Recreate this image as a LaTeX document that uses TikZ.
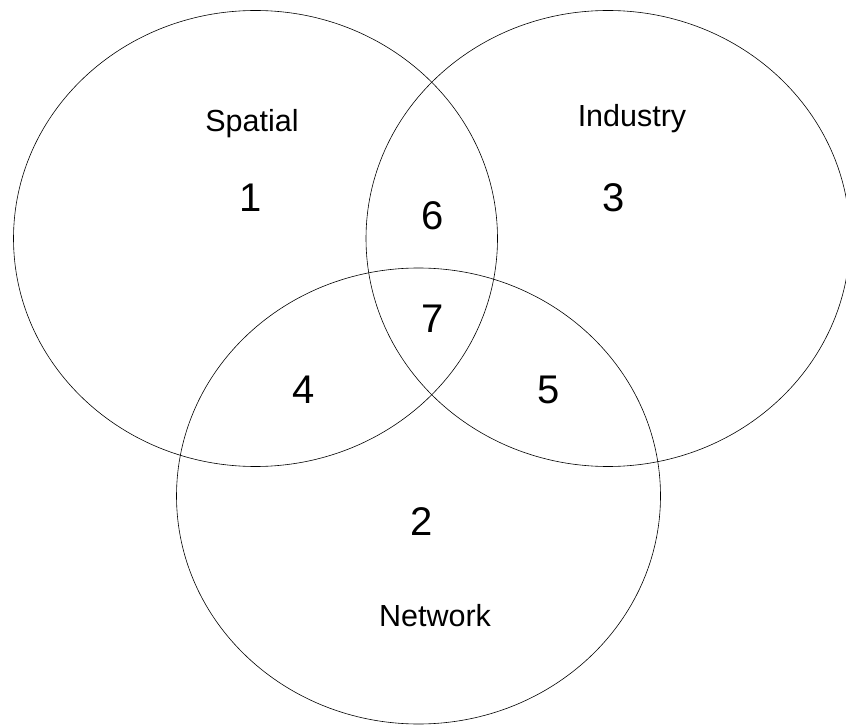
\documentclass[tikz,border=0pt]{standalone}
\usepackage{fontspec}
\setmainfont{Liberation Sans}
\usepackage{tikz}
\usetikzlibrary{shapes.geometric}

\begin{document}
\begin{tikzpicture}[x=1pt, y=1pt,
setnode/.style={ellipse, draw=black, line width=0.6pt, inner sep=0pt, outer sep=0pt, minimum width=484pt, minimum height=456pt},
setlabel/.style={anchor=base, inner sep=0pt, font=\fontsize{30.5}{36}\selectfont},
regionnum/.style={anchor=base, inner sep=0pt, font=\fontsize{40}{48}\selectfont},
]
\useasboundingbox (0pt,0pt) rectangle (846pt,724pt);
%Sets
\node[setnode] (spatial)  at (255.5pt, 485.5pt) {};
\node[setnode] (industry) at (608pt, 485.5pt) {};
\node[setnode] (network)  at (418.5pt, 228pt) {};
%Labels
\node[setlabel] (spatial_l)  at (252pt, 592.3pt) {Spatial};
\node[setlabel] (industry_l) at (632pt, 597.3pt) {Industry};
\node[setlabel] (network_l)  at (435pt, 98pt) {Network};
%Regions
\node[regionnum] (r1) at (251pt, 512pt) {1};
\node[regionnum] (r2) at (421.5pt, 189pt) {2};
\node[regionnum] (r3) at (614pt, 512pt) {3};
\node[regionnum] (r4) at (303.5pt, 321pt) {4};
\node[regionnum] (r5) at (549pt, 321pt) {5};
\node[regionnum] (r6) at (433pt, 494pt) {6};
\node[regionnum] (r7) at (433pt, 391pt) {7};
\end{tikzpicture}
\end{document}
